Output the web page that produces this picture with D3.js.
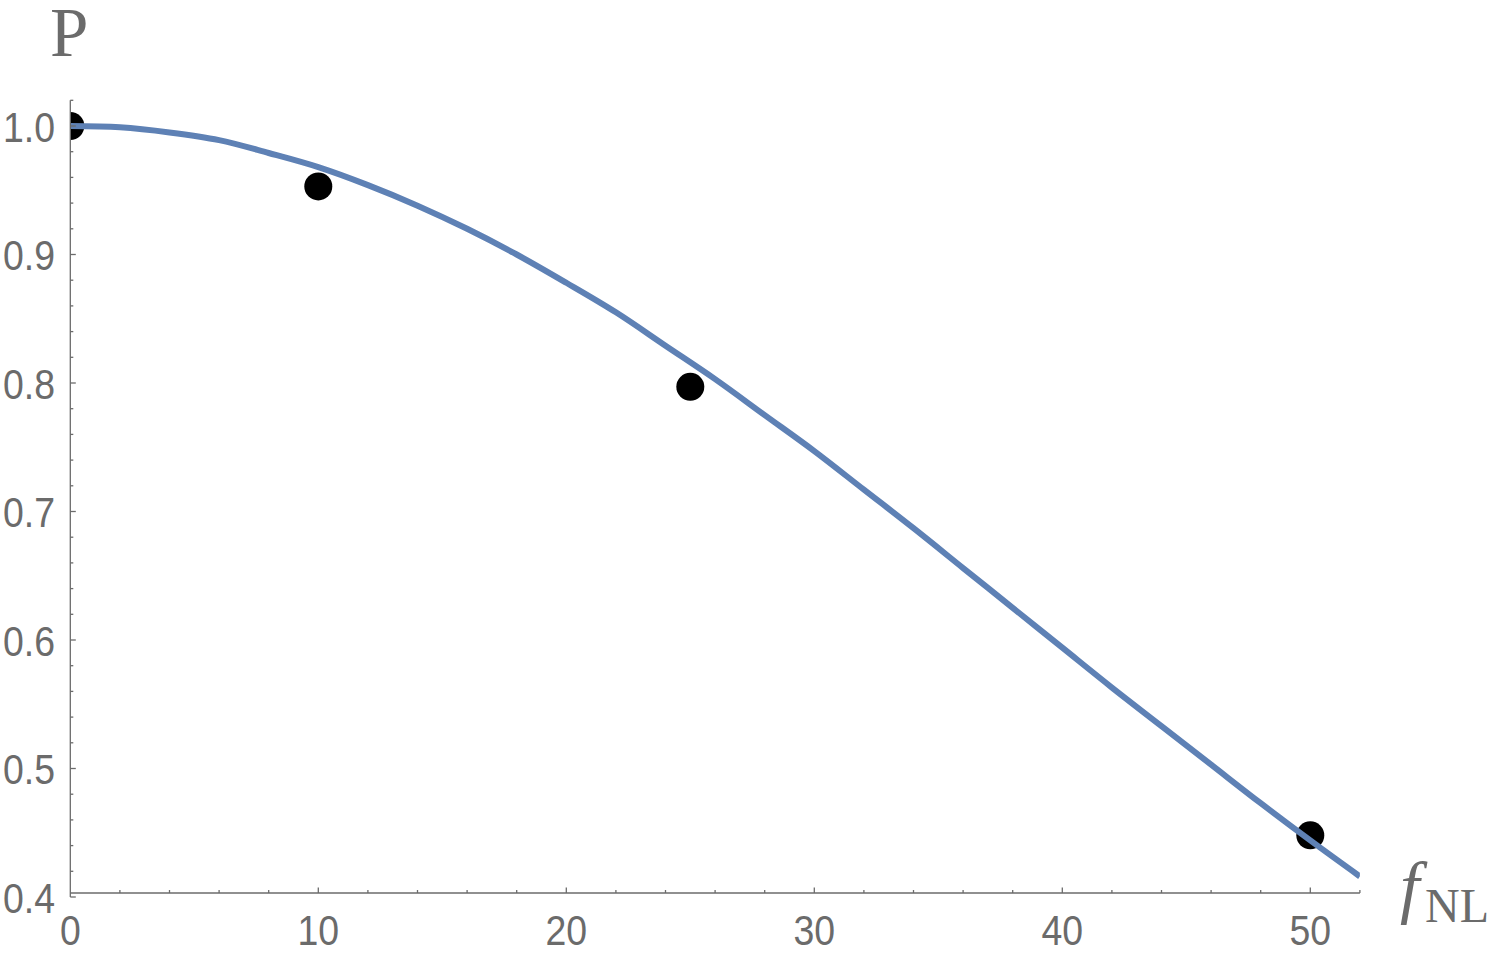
<!DOCTYPE html>
<html><head><meta charset="utf-8">
<script src="https://cdnjs.cloudflare.com/ajax/libs/d3/7.8.5/d3.min.js"></script>
<style>body{margin:0;background:#fff}</style>
</head><body>
<svg id="chart" width="1500" height="956"></svg>
<script>
// Data points (black dots)
const pointF = [0, 10, 25, 50];
const pointP = [1.000, 0.953, 0.797, 0.448];
// Curve samples
const curveF = [0,2,4,6,8,10,12,14,16,18,20,22,24,26,28,30,32,34,36,38,40,42,44,46,48,50,52];
const curveP = [1.000,0.999,0.995,0.989,0.979,0.968,0.954,0.938,0.920,0.900,0.878,0.855,0.829,0.803,0.775,0.747,0.717,0.687,0.656,0.625,0.594,0.563,0.533,0.503,0.473,0.444,0.416];
const xTicks = [0, 10, 20, 30, 40, 50];
const yTicks = [0.4, 0.5, 0.6, 0.7, 0.8, 0.9, 1.0];
const xLabels = ["0","10","20","30","40","50"];
const yLabels = ["0.4","0.5","0.6","0.7","0.8","0.9","1.0"];

const svg = d3.select("#chart");
const x = d3.scaleLinear().domain([0, 50]).range([70.3, 1310.3]);
const y = d3.scaleLinear().domain([0.4, 1.0]).range([897, 126]);
const xMax = 52, yMin = 0.4031, yMax = 1.02;
const axisColor = "#6b6b6b";

svg.append("defs").append("clipPath").attr("id","clip")
  .append("rect").attr("x", x(0)).attr("y", y(yMax)-20)
  .attr("width", x(xMax)-x(0)).attr("height", y(yMin)-y(yMax)+20);

const plot = svg.append("g").attr("clip-path","url(#clip)");
plot.selectAll("circle").data(pointF.map((f,i)=>({f, p: pointP[i]}))).join("circle")
  .attr("cx", d=>x(d.f)).attr("cy", d=>y(d.p)).attr("r", 14).attr("fill","#000");
plot.append("path").datum(curveF.map((f,i)=>[f, curveP[i]]))
  .attr("d", d3.line().x(d=>x(d[0])).y(d=>y(d[1])).curve(d3.curveCatmullRom))
  .attr("fill","none").attr("stroke","#5E81B5").attr("stroke-width",6);

// Axes
const ax = svg.append("g").attr("stroke", axisColor).attr("stroke-width", 1.3);
const xAxisY = y(yMin);
ax.append("line").attr("x1", x(0)).attr("x2", x(xMax)).attr("y1", xAxisY).attr("y2", xAxisY);
ax.append("line").attr("x1", x(0)).attr("x2", x(0)).attr("y1", y(yMax)).attr("y2", y(0.4));
// x ticks
const xMinor = d3.range(2, xMax + 0.01, 2).filter(v => v % 10 !== 0);
ax.selectAll(".xmin").data(xMinor).join("line")
  .attr("x1", d=>x(d)).attr("x2", d=>x(d)).attr("y1", xAxisY).attr("y2", xAxisY-3);
ax.selectAll(".xmaj").data(xTicks.slice(1)).join("line")
  .attr("x1", d=>x(d)).attr("x2", d=>x(d)).attr("y1", xAxisY).attr("y2", xAxisY-5.5);
// y ticks
const yMinor = d3.range(0.42, yMax + 0.001, 0.02).filter(v => Math.abs(v*10 - Math.round(v*10)) > 0.01);
ax.selectAll(".ymin").data(yMinor).join("line")
  .attr("x1", x(0)).attr("x2", x(0)+3).attr("y1", d=>y(d)).attr("y2", d=>y(d));
ax.selectAll(".ymaj").data(yTicks).join("line")
  .attr("x1", x(0)).attr("x2", x(0)+5.5).attr("y1", d=>y(d)).attr("y2", d=>y(d));

// labels (slightly condensed sans, like the reference)
const lab = svg.append("g").attr("fill", axisColor)
  .attr("font-family", "'Liberation Sans', Arial, sans-serif").attr("font-size", 43);
lab.selectAll(".xl").data(xLabels).join("text")
  .attr("transform", (d,i)=>`translate(${x(xTicks[i])},945) scale(0.87,1)`)
  .attr("text-anchor","middle").text(d=>d);
lab.selectAll(".yl").data(yLabels).join("text")
  .attr("transform", (d,i)=>`translate(55,${y(yTicks[i]) + 15.5}) scale(0.87,1)`)
  .attr("text-anchor","end").text(d=>d);

// axis titles
const serif = "'Liberation Serif', 'Times New Roman', serif";
svg.append("text").attr("x", 50).attr("y", 56)
  .attr("font-family", serif).attr("font-size", 69)
  .attr("fill", axisColor).text("P");
svg.append("text").attr("x", 1400).attr("y", 910)
  .attr("font-family", serif).attr("font-style","italic").attr("font-size", 70)
  .attr("fill", axisColor).text("f");
svg.append("text").attr("x", 1425).attr("y", 922)
  .attr("font-family", serif).attr("font-size", 48)
  .attr("fill", axisColor).text("NL");
</script>
</body></html>
